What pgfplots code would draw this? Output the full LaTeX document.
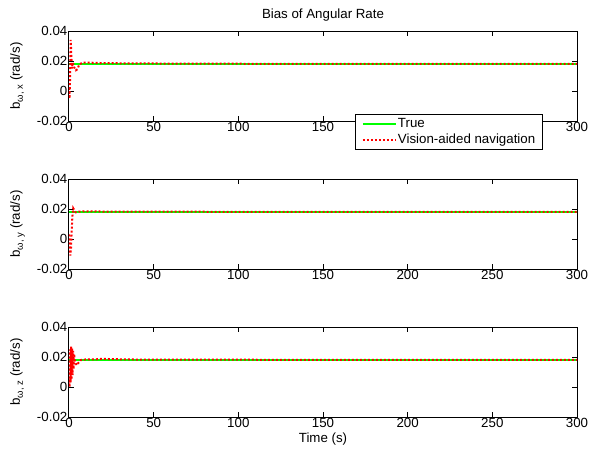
\documentclass[border=0pt]{standalone}
\usepackage{pgfplots}
\pgfplotsset{compat=1.18}
\usepackage{fontspec}
\setmainfont{Liberation Sans}
\definecolor{mgreen}{RGB}{0,255,0}
\definecolor{mred}{RGB}{255,0,0}
\newcommand{\mf}{\fontsize{13.3}{16}\selectfont}
\pgfplotsset{
 myax/.style={scale only axis, width=508pt, height=90pt,
  xmin=0, xmax=300, ymin=-0.02, ymax=0.04,
  xtick={0,50,...,300}, xticklabels={0,50,100,150,200,250,300},
  ytick={-0.02,0,0.02,0.04}, yticklabels={-0.02,0,0.02,0.04},
  tick align=inside, major tick length=5pt,
  axis line style={line width=1pt},
  every tick/.style={black, line width=1pt},
  scaled ticks=false,
  tick label style={inner sep=1.5pt, font=\mf},
  label style={font=\mf},
  title style={font=\mf},
  legend style={font=\mf},
  ylabel style={at={(axis description cs:-0.0965,0.5)}, anchor=base},
  anchor=south west},
 gline/.style={mgreen, line width=2pt},
 rline/.style={mred, line width=2pt, dash pattern=on 2pt off 2pt},
}
\newcommand{\yl}[1]{b\raisebox{-3pt}{\fontsize{9.5}{10}\selectfont ω, #1} (rad/s)}
\begin{document}
\begin{tikzpicture}[font=\mf]
\useasboundingbox (0,0) rectangle (602pt,451pt);
\begin{axis}[myax, at={(69pt,330pt)}, title={Bias of Angular Rate},
  ylabel={\yl{x}},
  legend style={at={(0.933,0.078)}, anchor=north east, draw=black, line width=1pt, fill=white, legend cell align=left, row sep=2.5pt, inner xsep=6pt, inner ysep=3pt, nodes={inner sep=1.2pt, font=\mf}},
  legend image code/.code={\draw[#1] (0pt,0pt) -- (33pt,0pt);}]
\addplot[gline] coordinates {(0,0.018) (300,0.018)};
\addplot[rline] coordinates {(0,0.002) (0.3,-0.005) (0.6,0.006) (1.0,0.034) (1.3,0.026) (1.7,0.015) (2.2,0.019) (3,0.016) (4,0.0138) (5,0.0145) (6,0.0175) (8,0.019) (12,0.0189) (20,0.0186) (40,0.0184) (80,0.0182) (150,0.0181) (300,0.0181)};
\legend{True, Vision-aided navigation}
\end{axis}
\begin{axis}[myax, at={(69pt,182pt)}, ylabel={\yl{y}}]
\addplot[gline] coordinates {(0,0.018) (300,0.018)};
\addplot[rline] coordinates {(0,0.003) (0.4,-0.004) (0.8,-0.011) (1.2,-0.006) (1.6,0.006) (2.0,0.015) (2.5,0.0205) (3,0.0195) (4,0.0178) (6,0.0183) (10,0.0185) (20,0.0183) (50,0.0182) (150,0.0181) (300,0.0181)};
\end{axis}
\begin{axis}[myax, at={(69pt,34pt)}, ylabel={\yl{z}}, xlabel={Time (s)}]
\addplot[gline] coordinates {(0,0.018) (300,0.018)};
\addplot[rline] coordinates {(0,0.005) (0.3,0.0) (0.6,0.025) (0.9,0.003) (1.2,0.027) (1.5,0.005) (1.8,0.026) (2.1,0.008) (2.4,0.024) (2.7,0.012) (3,0.022) (3.5,0.017) (4.5,0.0145) (5.5,0.016) (7,0.018) (10,0.0184) (15,0.0184) (20,0.0188) (25,0.0186) (40,0.0183) (150,0.0181) (300,0.0181)};
\end{axis}
\end{tikzpicture}
\end{document}
